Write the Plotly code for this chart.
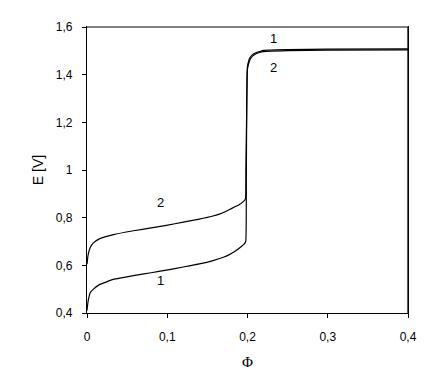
import plotly.graph_objects as go

# Curve 1 (Φ, E)
phi_1 = [0.0, 0.001, 0.002, 0.004, 0.008, 0.016, 0.033, 0.058, 0.08, 0.099, 0.12, 0.14,
         0.157, 0.17, 0.178, 0.184, 0.192, 0.196, 0.1978, 0.1985, 0.199, 0.1995, 0.2, 0.2015,
         0.203, 0.206, 0.209, 0.215, 0.22, 0.25, 0.3, 0.4]
e_1 = [0.41, 0.44, 0.46, 0.485, 0.50, 0.52, 0.541, 0.557, 0.569, 0.58, 0.593, 0.606,
       0.62, 0.634, 0.646, 0.658, 0.678, 0.69, 0.70, 0.95, 1.25, 1.40, 1.435, 1.458,
       1.471, 1.483, 1.49, 1.497, 1.502, 1.505, 1.507, 1.508]

# Curve 2 (Φ, E)
phi_2 = [0.0, 0.0005, 0.001, 0.002, 0.004, 0.008, 0.016, 0.033, 0.058, 0.08, 0.099, 0.12,
         0.14, 0.15, 0.157, 0.165, 0.172, 0.178, 0.19, 0.195, 0.1975, 0.198, 0.199, 0.1995,
         0.2, 0.2015, 0.203, 0.206, 0.209, 0.215, 0.22, 0.25, 0.3, 0.4]
e_2 = [0.605, 0.62, 0.635, 0.653, 0.675, 0.694, 0.712, 0.729, 0.745, 0.757, 0.768, 0.781,
       0.794, 0.801, 0.807, 0.815, 0.825, 0.835, 0.855, 0.868, 0.88, 1.0, 1.25, 1.39,
       1.425, 1.448, 1.463, 1.477, 1.485, 1.493, 1.497, 1.501, 1.503, 1.504]

# Curve labels: text, Φ, E
label_text = ["1", "2", "2", "1"]
label_phi = [0.232, 0.232, 0.092, 0.092]
label_e = [1.553, 1.430, 0.863, 0.536]

fig = go.Figure()
fig.add_trace(go.Scatter(x=phi_1, y=e_1, mode="lines",
                         line=dict(color="black", width=1.2, shape="spline", smoothing=0.4),
                         showlegend=False))
fig.add_trace(go.Scatter(x=phi_2, y=e_2, mode="lines",
                         line=dict(color="black", width=1.2, shape="spline", smoothing=0.4),
                         showlegend=False))

for t, px, py in zip(label_text, label_phi, label_e):
    fig.add_annotation(x=px, y=py, text=t, showarrow=False,
                       font=dict(family="Liberation Sans, Arial", size=13, color="black"))

# frame: grey top edge, black right edge
fig.add_shape(type="line", xref="paper", yref="paper", x0=0, x1=1, y0=1, y1=1,
              line=dict(color="#808080", width=2))
fig.add_shape(type="line", xref="paper", yref="paper", x0=1, x1=1, y0=0, y1=1,
              line=dict(color="black", width=1.3))

fig.update_layout(
    width=423, height=371,
    margin=dict(l=79, r=23, t=14, b=66),
    paper_bgcolor="white", plot_bgcolor="white",
    separators=", ",
    font=dict(family="Liberation Sans, Arial", size=12, color="black"),
    xaxis=dict(range=[0, 0.4], dtick=0.1, showgrid=False, zeroline=False,
               showline=True, linecolor="black", linewidth=1.3, mirror=True,
               ticks="outside", ticklen=4, tickcolor="black", ticklabelstandoff=8,
               title=dict(text="Φ", font=dict(family="Liberation Serif, Times New Roman", size=15),
                          standoff=13)),
    yaxis=dict(range=[0.4, 1.6], dtick=0.2, showgrid=False, zeroline=False,
               showline=True, linecolor="black", linewidth=1.3, mirror=True,
               ticks="outside", ticklen=4, tickcolor="black", ticklabelstandoff=7,
               title=dict(text="E [V]", standoff=8)),
)

fig.write_html("out.html")
